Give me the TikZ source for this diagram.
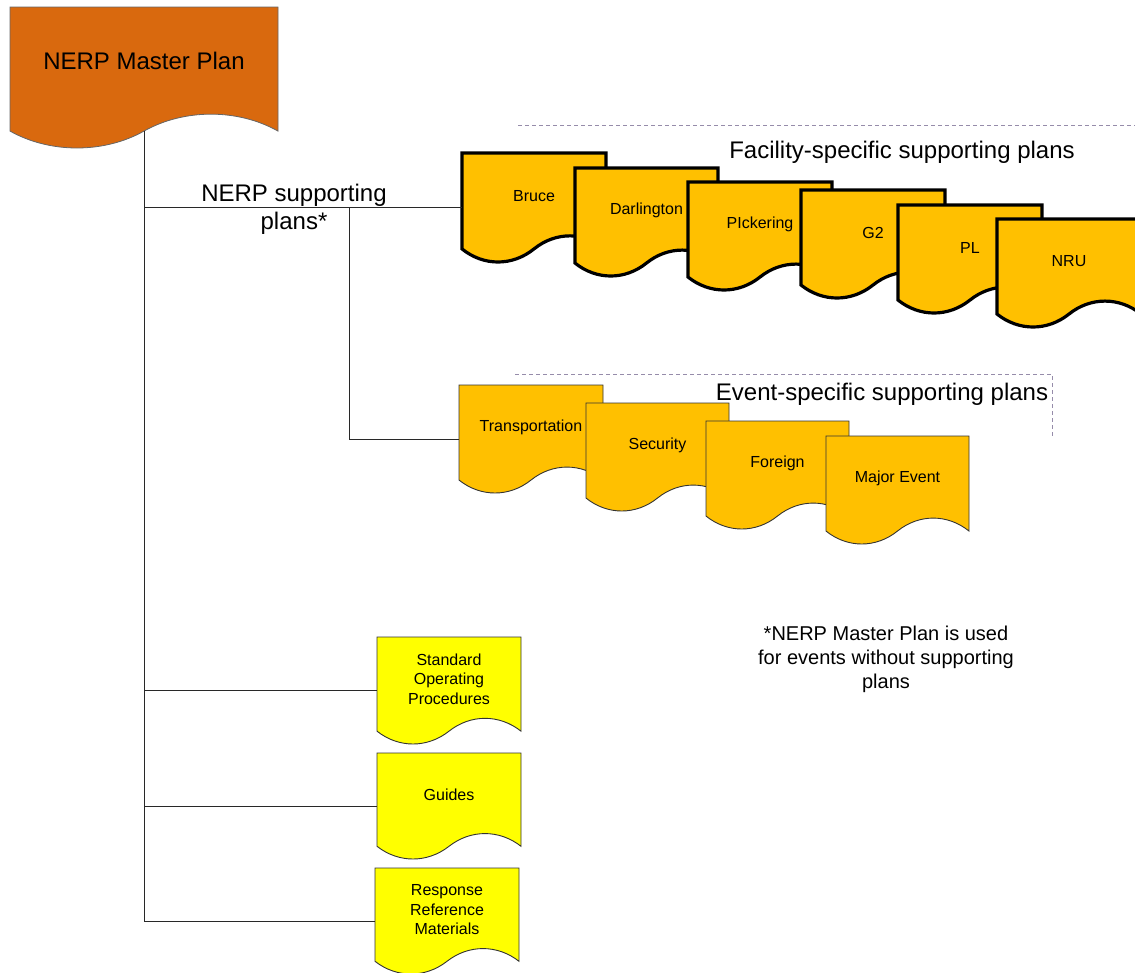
\documentclass[tikz,border=0pt]{standalone}
\usepackage{fontspec}
\setmainfont{Liberation Sans}
\definecolor{masterorange}{RGB}{217,105,14}
\definecolor{planamber}{RGB}{255,192,0}
\definecolor{refyellow}{RGB}{255,255,0}
\definecolor{dashpurple}{RGB}{150,140,170}
\definecolor{linegray}{RGB}{40,40,40}
\newcommand\docnode[6]{%
  \node[docframe, minimum width=#4pt, minimum height=#5pt, anchor=north west] (#1) at (#2,#3) {};
  \draw[#6] (#2,#3) -- ({#2+#4},#3) -- ({#2+#4},{#3+0.88*#5})
    .. controls ({#2+0.85*#4},{#3+0.72*#5}) and ({#2+0.65*#4},{#3+0.72*#5}) .. ({#2+0.5*#4},{#3+0.88*#5})
    .. controls ({#2+0.35*#4},{#3+1.04*#5}) and ({#2+0.15*#4},{#3+1.04*#5}) .. (#2,{#3+0.88*#5}) -- cycle;
}
\newcommand\doclabel[6]{% name, x, y, w, h, text
  \node[doctext, align=center] (#1-t) at ({#2+0.5*#4},{#3+0.38*#5+1.5}) {#6};
}
\begin{document}
\begin{tikzpicture}[x=1pt,y=-1pt,
  docframe/.style={draw=none, inner sep=0pt, outer sep=0pt},
  masterstyle/.style={fill=masterorange, draw=gray!80!black, line width=0.8pt},
  facstyle/.style={fill=planamber, draw=black, line width=3.2pt, line join=miter},
  evtstyle/.style={fill=planamber, draw=black!80, line width=0.9pt},
  refstyle/.style={fill=refyellow, draw=black!80, line width=0.9pt},
  doctext/.style={font=\fontsize{16}{19.5}\selectfont, inner sep=0pt},
  bigtext/.style={font=\fontsize{24}{28}\selectfont, inner sep=0pt, align=center},
  notetext/.style={font=\fontsize{20}{24}\selectfont, inner sep=0pt, align=center},
  conn/.style={draw=linegray, line width=0.9pt},
  divider/.style={draw=dashpurple, line width=0.8pt, dash pattern=on 4pt off 3pt}
]
\useasboundingbox (0,0) rectangle (1135,972);
\clip (0,0) rectangle (1135,972);

% divider lines
\coordinate (facdashA) at (518,125);
\coordinate (facdashB) at (1135,125);
\draw[divider] (facdashA) -- (facdashB);
\coordinate (evtdashA) at (515,374);
\coordinate (evtdashB) at (1052,374);
\coordinate (evtdashC) at (1052,436);
\draw[divider] (evtdashA) -- (evtdashB) -- (evtdashC);

% master plan
\docnode{master}{10}{7}{268}{141}{masterstyle}
\node[bigtext] (master-t) at (144,61) {NERP Master Plan};

\coordinate (trunktop) at (144,131);
\coordinate (branch) at (349,208);

% facility-specific plans
\docnode{bruce}{462}{153}{144}{109}{facstyle}
\doclabel{bruce}{462}{153}{144}{109}{Bruce}
\docnode{darl}{575}{168}{143}{108}{facstyle}
\doclabel{darl}{575}{168}{143}{108}{Darlington}
\docnode{pick}{688}{182}{144}{108}{facstyle}
\doclabel{pick}{688}{182}{144}{108}{PIckering}
\docnode{gtwo}{801}{190}{144}{108}{facstyle}
\doclabel{gtwo}{801}{190}{144}{108}{G2}
\docnode{pl}{898}{205}{144}{108}{facstyle}
\doclabel{pl}{898}{205}{144}{108}{PL}
\docnode{nru}{997}{219}{144}{108}{facstyle}
\doclabel{nru}{997}{219}{144}{108}{NRU}

% event-specific plans
\docnode{trans}{459}{385}{144}{108}{evtstyle}
\doclabel{trans}{459}{385}{144}{108}{Transportation}
\docnode{secu}{586}{403}{143}{108}{evtstyle}
\doclabel{secu}{586}{403}{143}{108}{Security}
\docnode{foreign}{706}{421}{143}{108}{evtstyle}
\doclabel{foreign}{706}{421}{143}{108}{Foreign}
\docnode{major}{826}{436}{143}{108}{evtstyle}
\doclabel{major}{826}{436}{143}{108}{Major Event}

% reference documents
\docnode{sop}{377}{637}{144}{107}{refstyle}
\doclabel{sop}{377}{637}{144}{107}{Standard\\Operating\\Procedures}
\docnode{guides}{377}{753}{144}{106}{refstyle}
\doclabel{guides}{377}{753}{144}{106}{Guides}
\docnode{resp}{375}{868}{144}{106}{refstyle}
\doclabel{resp}{375}{868}{144}{106}{Response\\Reference\\Materials}

% connectors
\draw[conn] (trunktop) -- (trunktop |- resp.west) -- (resp.west);
\draw[conn] (trunktop |- bruce.west) -- (bruce.west);
\draw[conn] (branch) -- (branch |- trans.west) -- (trans.west);
\draw[conn] (trunktop |- sop.west) -- (sop.west);
\draw[conn] (trunktop |- guides.west) -- (guides.west);

% labels
\node[bigtext] (supp) at (294,209) {NERP supporting\\plans*};
\node[bigtext] (faclabel) at (902,152) {Facility-specific supporting plans};
\node[bigtext] (evtlabel) at (882,394) {Event-specific supporting plans};
\node[notetext] (note) at (886,659) {*NERP Master Plan is used\\for events without supporting\\plans};
\end{tikzpicture}
\end{document}
